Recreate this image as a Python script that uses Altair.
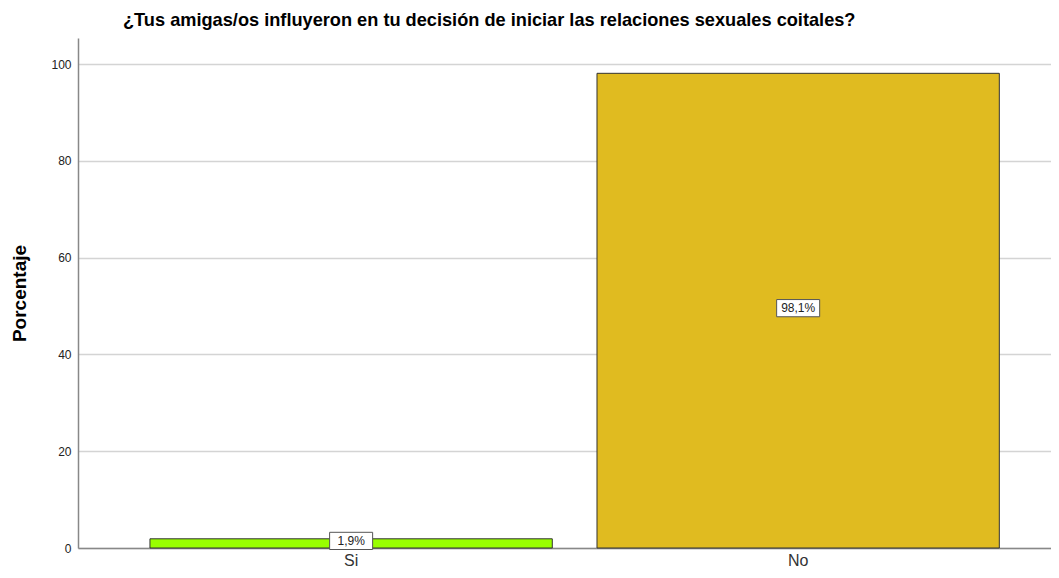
import altair as alt
import pandas as pd

categories = ["Si", "No"]
percentages = [1.9, 98.1]
labels = ["1,9%", "98,1%"]
colors = ["#99FF00", "#E0BB20"]
y_ticks = [0, 20, 40, 60, 80, 100]

df = pd.DataFrame({"cat": categories, "pct": percentages, "label": labels})

FONT = "Liberation Sans"

x_enc = alt.X(
    "cat:N",
    sort=categories,
    scale=alt.Scale(domain=categories, paddingInner=0.1, paddingOuter=0.1383, align=0.582),
    axis=alt.Axis(title=None, labelAngle=0, labelFontSize=16, labelColor="#333333",
                  labelFont=FONT, ticks=False, labelPadding=4, grid=False,
                  domainColor="#888888", domainWidth=1.5),
)

bars = alt.Chart(df).mark_bar(stroke="#333333", strokeWidth=1).encode(
    x=x_enc,
    y=alt.Y("pct:Q", scale=alt.Scale(domain=[0, 105.4], nice=False),
            axis=alt.Axis(title="Porcentaje", values=y_ticks, ticks=False, labelPadding=7,
                          labelFontSize=12, labelColor="#222222", labelFont=FONT,
                          titleFontSize=19, titleFont=FONT, titleFontWeight="bold",
                          titleColor="#000000", titlePadding=21,
                          grid=True, gridColor="#d4d4d4", gridWidth=1.5,
                          domainColor="#888888", domainWidth=1.5)),
    color=alt.Color("cat:N", scale=alt.Scale(domain=categories, range=colors), legend=None),
)

base = alt.Chart(df).transform_calculate(mid="datum.pct / 2")

boxes = base.mark_point(
    shape="M-1,-0.4L1,-0.4L1,0.4L-1,0.4Z", filled=True, fill="white", stroke="#555555",
    strokeWidth=1, opacity=1, size=1850, yOffset=-2.5,
).encode(x=alt.X("cat:N", sort=categories), y=alt.Y("mid:Q"))

texts = base.mark_text(fontSize=12, font=FONT, color="#222222", dy=-2.5).encode(
    x=alt.X("cat:N", sort=categories), y=alt.Y("mid:Q"), text="label:N"
)

chart = alt.layer(bars, boxes, texts).properties(
    width=973,
    height=510,
    autosize=alt.AutoSizeParams(type="none"),
    padding={"left": 70, "top": 30, "right": 0, "bottom": 22},
    title=alt.TitleParams(
        "¿Tus amigas/os influyeron en tu decisión de iniciar las relaciones sexuales coitales?",
        anchor="start", frame="group", dx=45, offset=8, fontSize=18.2, font=FONT,
        fontWeight="bold", color="#000000",
    ),
).configure_view(stroke=None)

chart.save("out.html", embed_options={"renderer": "svg", "actions": False})
